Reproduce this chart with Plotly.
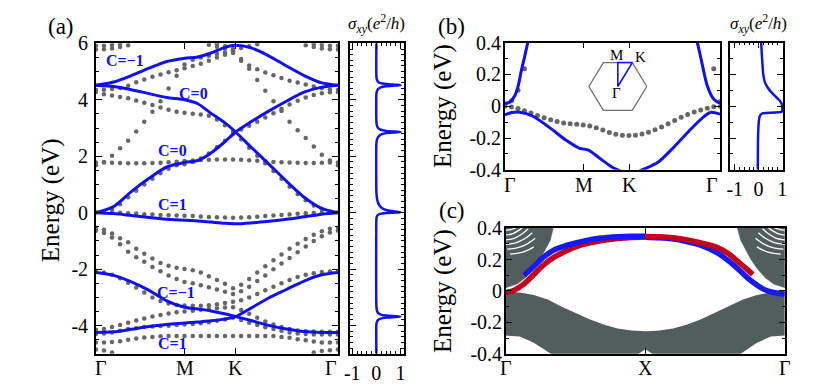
import plotly.graph_objects as go

FONT = "Liberation Serif"
BLUE = "#1010f0"
GREY = "#666666"
BULK = "#525d5d"
RED = "#c2001c"
EDGE_BLUE = "#1818f0"
N = None

# ---------------- panel (a): bands along G-M-K-G (k in units of |GM|) ----------------
k_path_ticks = [1.0, 1.577]
k_end = 2.732

# k grid of the tight-binding dots (31 points)
k_dots_a = [0.0, 0.091, 0.182, 0.273, 0.364, 0.455, 0.546, 0.638, 0.729, 0.82, 0.911,
            1.0, 1.093, 1.184, 1.275, 1.366, 1.457, 1.548, 1.639, 1.73, 1.821,
            1.912, 2.004, 2.095, 2.186, 2.277, 2.368, 2.459, 2.55, 2.641, 2.732]

ga_top1 = [5.92, 5.92, 5.94, 5.97, N, N, N, N, N, N, N, N, N, N, N, N, N, N, N, N, N, N, N, N, N, N, N,
           5.97, 5.94, 5.92, 5.92]
ga_top2 = [5.78, 5.79, 5.82, 5.87, 5.93, N, N, N, N, N, N, N, N, N, N, N, N, N, N, N, N, N, N, N, N, N,
           5.93, 5.87, 5.82, 5.79, 5.78]
ga_topk = [N, N, N, N, N, N, N, N, N, N, N, N, N, N, 5.95, 5.88, 5.82, 5.8, 5.84, 5.9, 5.97,
           N, N, N, N, N, N, N, N, N, N]
ga_flat = [1.78, 1.78, 1.77, 1.76, 1.75, 1.75, 1.75, 1.76, 1.77, 1.79, 1.81, 1.83, 1.85, 1.87, 1.88,
           1.89, 1.89, 1.89, 1.88, 1.86, 1.84, 1.82, 1.8, 1.79, 1.78, 1.77, 1.76, 1.76, 1.77, 1.78, 1.78]
ga_steep_l = [1.68, 1.8, 2.02, 2.28, 2.55, 2.88, 3.22, 3.58, 3.95, 4.4, 4.85, 5.25, 5.42, 5.5, 5.56,
              5.62, 5.68, 5.72, N, N, N, N, N, N, N, N, N, N, N, N, N]
ga_steep_r = [N, N, N, N, N, N, N, N, N, N, N, N, N, N, N, 5.97, 5.9, 5.75, 5.45, 5.1, 4.7, 4.32,
              3.95, 3.6, 3.22, 2.92, 2.65, 2.35, 2.05, 1.85, 1.68]
ga_u1 = [4.35, 4.36, 4.38, 4.42, 4.5, 4.62, 4.72, 4.82, 4.9, 4.98, 5.05, 5.12, 5.2, 5.28, 5.38,
         5.5, 5.6, 5.66, 5.38, 5.22, 5.08, 4.97, 4.87, 4.77, 4.68, 4.61, 4.54, 4.47, 4.41, 4.37, 4.35]
ga_u3 = [4.28, 4.2, 4.15, 4.1, 4.06, 3.98, 3.9, 3.82, 3.73, 3.65, 3.58, 3.54, 3.51, 3.48, 3.44,
         3.3, 3.1, 2.88, 2.6, 2.3, 2.02, 1.75, 1.48, 1.2, 0.92, 0.66, 0.44, 0.26, 0.12, N, N]
ga_u3m = [N, N, 0.12, 0.3, 0.55, 0.78, 1.0, 1.2, 1.4, 1.56, 1.68, 1.72, 1.8, 1.92, 2.1,
          2.32, 2.55, 2.8, 2.95, 3.08, 3.22, 3.37, 3.52, 3.68, 3.83, 3.97, 4.08, 4.17, 4.23, 4.27, 4.28]
ga_zero = [0.02, 0.02, 0.01, 0.0, -0.02, -0.03, -0.05, -0.06, -0.08, -0.09, -0.1, -0.11, -0.12, -0.13,
           -0.15, -0.16, -0.17, -0.18, -0.17, -0.16, -0.14, -0.12, -0.1, -0.08, -0.06, -0.04, -0.02,
           -0.01, 0.0, 0.01, 0.02]
ga_l1 = [-0.53, -0.6, -0.74, -0.9, -1.05, -1.28, -1.45, -1.62, -1.78, -1.88, -1.95, -1.99, -2.04,
         -2.12, -2.25, -2.38, -2.52, -2.68, -2.55, -2.35, -2.12, -1.9, -1.68, -1.48, -1.28, -1.1,
         -0.93, -0.78, -0.66, -0.57, -0.53]
ga_l2 = [-0.64, -0.72, -0.88, -1.12, -1.38, -1.58, -1.74, -1.92, -2.07, -2.22, -2.35, -2.45, -2.5,
         -2.57, -2.64, -2.72, -2.8, -2.88, -2.78, -2.62, -2.42, -2.22, -2.0, -1.8, -1.6, -1.4, -1.2,
         -1.0, -0.83, -0.7, -0.64]
ga_l3 = [-2.08, -2.12, -2.2, -2.32, -2.48, -2.65, -2.83, -3.0, -3.13, -3.22, -3.27, -3.29, -3.3, -3.3,
         -3.28, -3.24, -3.2, -3.15, -3.1, -3.0, -2.88, -2.75, -2.62, -2.5, -2.38, -2.28, -2.2, -2.14,
         -2.1, -2.08, -2.07]
ga_l4 = [-4.15, -4.12, -4.05, -3.98, -3.9, -3.82, -3.75, -3.68, -3.62, -3.57, -3.53, -3.5, -3.47,
         -3.44, -3.41, -3.38, -3.36, -3.35, -3.45, -3.58, -3.72, -3.85, -3.96, -4.05, -4.12, -4.17,
         -4.2, -4.21, -4.22, -4.22, -4.22]
ga_l5 = [-4.3, -4.28, -4.24, -4.18, -4.12, -4.08, -4.05, -4.03, -4.01, -4.0, -3.98, -3.96, -3.94,
         -3.92, -3.88, -3.83, -3.78, -3.72, -3.8, -3.9, -3.98, -4.06, -4.12, -4.18, -4.24, -4.28,
         -4.3, -4.31, -4.31, -4.31, -4.31]
ga_l6 = [-4.6, -4.6, -4.58, -4.55, -4.5, -4.46, -4.42, -4.4, -4.38, -4.37, -4.37, -4.37, -4.37,
         -4.37, -4.37, -4.37, -4.37, -4.37, -4.37, -4.37, -4.37, -4.37, -4.37, -4.4, -4.43, -4.48,
         -4.52, -4.56, -4.6, -4.6, -4.6]
ga_l7 = [-4.85, -4.88, -4.95, N, N, N, N, N, N, N, N, N, N, N, N, N, N, N, N, N, N, N, N, N, N, N, N,
         -4.95, -4.9, -4.87, -4.85]

grey_bands_a = [ga_top1, ga_top2, ga_topk, ga_flat, ga_steep_l, ga_steep_r, ga_u1, ga_u3, ga_u3m,
                ga_zero, ga_l1, ga_l2, ga_l3, ga_l4, ga_l5, ga_l6, ga_l7]

# Wannier-like (blue) bands, sampled at these k knots
k_blue_a = [0, 0.2, 0.4, 0.6, 0.8, 1.0, 1.15, 1.3, 1.45, 1.577, 1.75, 1.95, 2.15, 2.35, 2.55, 2.732]
band_a1 = [4.52, 4.63, 4.86, 5.12, 5.36, 5.47, 5.52, 5.66, 5.85, 5.93, 5.84, 5.56, 5.2, 4.86, 4.6, 4.52]
band_a2 = [4.52, 4.47, 4.36, 4.22, 4.08, 4.0, 3.86, 3.52, 3.2, 2.86, 2.33, 1.73, 1.12, 0.55, 0.15, 0.0]
band_a3 = [0.0, 0.22, 0.75, 1.22, 1.62, 1.78, 1.85, 2.12, 2.5, 2.86, 3.22, 3.6, 3.95, 4.27, 4.45, 4.52]
band_a4 = [0.0, -0.03, -0.1, -0.17, -0.23, -0.27, -0.29, -0.33, -0.37, -0.39, -0.36, -0.3, -0.23, -0.14, -0.05, 0.0]
band_a5 = [-2.12, -2.22, -2.45, -2.75, -3.12, -3.35, -3.41, -3.48, -3.58, -3.68, -3.82, -3.99, -4.12, -4.21, -4.24, -4.24]
band_a6 = [-4.24, -4.22, -4.13, -4.03, -3.96, -3.91, -3.87, -3.83, -3.77, -3.68, -3.38, -3.02, -2.72, -2.42, -2.2, -2.12]
blue_bands_a = [band_a1, band_a2, band_a3, band_a4, band_a5, band_a6]

chern_text = ["C=\u22121", "C=0", "C=0", "C=1", "C=\u22121", "C=1"]
chern_k = [0.323, 1.104, 0.859, 0.859, 0.903, 0.859]
chern_E = [5.4, 4.24, 2.19, 0.3, -2.81, -4.64]

# Hall conductivity (a)
sig_a_E = [6.0, 4.85, 4.72, 4.64, 4.59, 4.56, 4.535, 4.52, 4.505, 4.48, 4.44, 4.38, 4.3, 4.2,
           3.25, 3.1, 3.0, 2.94, 2.9, 2.875, 2.86, 2.845, 2.82, 2.77, 2.68, 2.57, 2.45,
           0.75, 0.55, 0.38, 0.24, 0.13, 0.07, 0.035, 0.02, 0.005, -0.01, -0.04, -0.09, -0.16, -0.25,
           -3.3, -3.45, -3.55, -3.61, -3.645, -3.665, -3.68, -3.695, -3.715, -3.75, -3.8, -3.87, -3.95,
           -5.0]
sig_a_val = [0, 0, 0.02, 0.07, 0.18, 0.4, 0.8, 1.0, 0.8, 0.4, 0.18, 0.07, 0.02, 0,
             0, 0.02, 0.07, 0.18, 0.4, 0.8, 1.0, 0.8, 0.4, 0.18, 0.07, 0.02, 0,
             0, 0.02, 0.06, 0.14, 0.3, 0.55, 0.85, 1.0, 0.85, 0.4, 0.15, 0.05, 0.01, 0,
             0, 0.02, 0.07, 0.18, 0.4, 0.8, 1.0, 0.8, 0.4, 0.18, 0.07, 0.02, 0,
             0]

# ---------------- panel (b): zoom around the gap ----------------
k_dots_b = [0.0, 0.083, 0.166, 0.248, 0.331, 0.414, 0.497, 0.58, 0.662, 0.745, 0.828, 0.911,
            0.993, 1.076, 1.159, 1.242, 1.325, 1.407, 1.49, 1.573, 1.656, 1.739, 1.821, 1.904,
            1.987, 2.07, 2.153, 2.236, 2.318, 2.401, 2.484, 2.567, 2.649, 2.732]
gb_flat = [0.0, -0.005, -0.015, -0.028, -0.042, -0.058, -0.072, -0.085, -0.096, -0.105, -0.11,
           -0.114, -0.118, -0.124, -0.135, -0.15, -0.165, -0.176, -0.182, -0.184, -0.182, -0.175,
           -0.163, -0.148, -0.13, -0.11, -0.09, -0.07, -0.052, -0.036, -0.023, -0.012, -0.004, 0.0]
gb_steep = [0.012, 0.035, 0.1, 0.235, N, N, N, N, N, N, N, N, N, N, N, N, N, N, N, N, N, N, N, N,
            N, N, N, N, N, N, N, N, 0.235, 0.03]

kb_up_l = [0, 0.06, 0.125, 0.167, 0.209, 0.251, 0.292, 0.33]
Eb_up_l = [0.018, 0.025, 0.066, 0.125, 0.225, 0.314, 0.404, 0.48]
kb_up_r = [2.404, 2.444, 2.485, 2.528, 2.569, 2.632, 2.694, 2.732]
Eb_up_r = [0.48, 0.394, 0.305, 0.205, 0.125, 0.056, 0.026, 0.02]
kb_low = [0, 0.088, 0.188, 0.355, 0.564, 0.773, 0.94, 1.065, 1.19, 1.357, 1.441, 1.529, 1.642,
          1.733, 1.942, 2.151, 2.36, 2.528, 2.611, 2.732]
Eb_low = [-0.054, -0.04, -0.038, -0.063, -0.133, -0.213, -0.263, -0.277, -0.323, -0.382, -0.402,
          -0.42, -0.42, -0.402, -0.352, -0.253, -0.143, -0.064, -0.038, -0.05]

sig_b_E = [0.4, 0.3, 0.2, 0.15, 0.115, 0.09, 0.066, 0.05, 0.036, 0.02, 0.006, -0.01, -0.025,
           -0.035, -0.04, -0.042, -0.046, -0.055, -0.07, -0.1, -0.2, -0.4]
sig_b_val = [0.11, 0.15, 0.2, 0.27, 0.4, 0.53, 0.68, 0.79, 0.89, 0.96, 0.99, 1.0, 1.0, 0.98, 0.7,
             0.3, 0.15, 0.08, 0.04, 0.01, -0.02, -0.03]

# Brillouin-zone inset (unit hexagon) and path
hex_x = [1, 0.5, -0.5, -1, -0.5, 0.5, 1]
hex_y = [0, 0.866, 0.866, 0, -0.866, -0.866, 0]
bz_path_x = [0, 0, 0.5, 0]
bz_path_y = [0, 0.866, 0.866, 0]

# ---------------- panel (c): slab spectrum G-X-G ----------------
kc_bulk = [0, 0.1, 0.2, 0.3, 0.4, 0.5, 0.6, 0.7, 0.8, 0.9, 0.95, 1.0, 1.05, 1.1, 1.2, 1.3, 1.4,
           1.5, 1.6, 1.7, 1.8, 1.9, 2.0]
Ec_bulk_top = [-0.01, -0.01, -0.025, -0.055, -0.1, -0.14, -0.18, -0.213, -0.238, -0.252, -0.255,
               -0.256, -0.255, -0.252, -0.238, -0.213, -0.18, -0.14, -0.1, -0.055, -0.025, -0.01, -0.01]
Ec_bulk_bot = [-0.284, -0.29, -0.33, -0.39, -0.45, -0.5, -0.5, -0.48, -0.46, -0.43, -0.4, -0.37,
               -0.4, -0.43, -0.46, -0.48, -0.5, -0.5, -0.45, -0.39, -0.33, -0.29, -0.284]
kc_wedge_l = [0, 0, 0.01, 0.08, 0.14, 0.199, 0.246, 0.282, 0.317, 0.34, 0.35, 0]
Ec_wedge_l = [0.45, 0.02, 0.024, 0.044, 0.084, 0.144, 0.204, 0.264, 0.32, 0.4, 0.45, 0.45]
kc_wedge_r = [2.0, 2.0, 1.99, 1.92, 1.86, 1.8, 1.755, 1.72, 1.685, 1.66, 1.65, 2.0]
Ec_wedge_r = [0.45, 0.02, 0.024, 0.044, 0.084, 0.144, 0.204, 0.264, 0.32, 0.4, 0.45, 0.45]
# white gaps between slab sub-bands inside the wedges
arcs_l_k = [[0, 0.04, 0.08], [0, 0.05, 0.1, 0.12], [0, 0.06, 0.12, 0.16],
            [0, 0.07, 0.14, 0.19], [0.01, 0.08, 0.15, 0.21], [0.03, 0.09, 0.15, 0.2]]
arcs_l_E = [[0.385, 0.392, 0.405], [0.355, 0.365, 0.39, 0.405], [0.325, 0.335, 0.365, 0.395],
            [0.297, 0.306, 0.335, 0.37], [0.266, 0.274, 0.298, 0.335], [0.234, 0.24, 0.256, 0.28]]
arcs_r_k = [[2.0, 1.96, 1.92], [2.0, 1.95, 1.9, 1.88], [2.0, 1.94, 1.88, 1.84],
            [2.0, 1.93, 1.86, 1.81], [1.99, 1.92, 1.85, 1.79], [1.97, 1.91, 1.85, 1.8]]
arcs_r_E = arcs_l_E

kc_red_l = [0, 0.06, 0.13, 0.2, 0.27, 0.34, 0.42, 0.5, 0.57, 0.67, 0.8, 0.9, 1.0]
Ec_red_l = [-0.01, 0.005, 0.045, 0.105, 0.165, 0.212, 0.25, 0.28, 0.3, 0.318, 0.333, 0.34, 0.343]
kc_blue_l = [0.13, 0.2, 0.27, 0.34, 0.42, 0.5, 0.57, 0.67, 0.8, 0.9, 1.0]
Ec_blue_l = [0.1, 0.155, 0.215, 0.258, 0.285, 0.305, 0.32, 0.335, 0.345, 0.348, 0.348]
kc_blue_r = [1.0, 1.1, 1.2, 1.28, 1.4, 1.52, 1.64, 1.75, 1.85, 1.92, 2.0]
Ec_blue_r = [0.342, 0.338, 0.33, 0.318, 0.29, 0.24, 0.16, 0.07, 0.01, -0.01, -0.02]
kc_red_r = [1.0, 1.1, 1.2, 1.3, 1.4, 1.52, 1.6, 1.66, 1.72, 1.77]
Ec_red_r = [0.346, 0.344, 0.338, 0.325, 0.305, 0.275, 0.235, 0.19, 0.145, 0.105]

# ---------------- layout geometry (pixels of the 830x391 canvas) ----------------
W, H = 830, 391


def dx(a, b):
    return [a / W, b / W]


def dy(top, bottom):
    return [1 - bottom / H, 1 - top / H]


def frame(domain, rng, **kw):
    d = dict(domain=domain, range=rng, showline=True, linecolor="black", linewidth=1.6,
             mirror="allticks", ticks="inside", ticklen=6, tickwidth=1.2, tickcolor="black",
             showgrid=False, zeroline=False, fixedrange=True,
             tickfont=dict(family=FONT, size=20, color="black"))
    d.update(kw)
    return d


def minor(step, length=3):
    return dict(ticks="inside", ticklen=length, tickwidth=1, tickcolor="black",
                tickmode="linear", tick0=0, dtick=step, showgrid=False)


fig = go.Figure()

# (a) dots then Wannier bands
for band in grey_bands_a:
    fig.add_trace(go.Scatter(x=k_dots_a, y=band, mode="markers", xaxis="x", yaxis="y",
                             marker=dict(size=4.5, color=GREY)))
for band in blue_bands_a:
    fig.add_trace(go.Scatter(x=k_blue_a, y=band, mode="lines", xaxis="x", yaxis="y",
                             line=dict(color=BLUE, width=3, shape="spline", smoothing=0.8)))
fig.add_trace(go.Scatter(x=sig_a_val, y=sig_a_E, mode="lines", xaxis="x2", yaxis="y2",
                         line=dict(color=BLUE, width=2.5, shape="spline", smoothing=0.5)))

# (b)
fig.add_trace(go.Scatter(x=k_dots_b, y=gb_flat, mode="markers", xaxis="x3", yaxis="y3",
                         marker=dict(size=5, color=GREY)))
fig.add_trace(go.Scatter(x=k_dots_b, y=gb_steep, mode="markers", xaxis="x3", yaxis="y3",
                         marker=dict(size=5, color=GREY)))
for kk, ee in [(kb_up_l, Eb_up_l), (kb_up_r, Eb_up_r), (kb_low, Eb_low)]:
    fig.add_trace(go.Scatter(x=kk, y=ee, mode="lines", xaxis="x3", yaxis="y3",
                             line=dict(color=BLUE, width=3, shape="spline", smoothing=0.8)))
fig.add_trace(go.Scatter(x=sig_b_val, y=sig_b_E, mode="lines", xaxis="x4", yaxis="y4",
                         line=dict(color=BLUE, width=2.5, shape="spline", smoothing=0.5)))

# (c) bulk continuum, sub-band gaps, edge states
fig.add_trace(go.Scatter(x=kc_bulk, y=Ec_bulk_bot, mode="lines", xaxis="x5", yaxis="y5",
                         line=dict(width=0, color=BULK)))
fig.add_trace(go.Scatter(x=kc_bulk, y=Ec_bulk_top, mode="lines", xaxis="x5", yaxis="y5",
                         fill="tonexty", fillcolor=BULK, line=dict(width=0, color=BULK)))
for kk, ee in [(kc_wedge_l, Ec_wedge_l), (kc_wedge_r, Ec_wedge_r)]:
    fig.add_trace(go.Scatter(x=kk, y=ee, mode="lines", xaxis="x5", yaxis="y5", fill="toself",
                             fillcolor=BULK, line=dict(width=0.5, color=BULK)))
for kk, ee in list(zip(arcs_l_k, arcs_l_E)) + list(zip(arcs_r_k, arcs_r_E)):
    fig.add_trace(go.Scatter(x=kk, y=ee, mode="lines", xaxis="x5", yaxis="y5",
                             line=dict(width=1.3, color="white", shape="spline")))
for kk, ee, col in [(kc_red_l, Ec_red_l, RED), (kc_blue_l, Ec_blue_l, EDGE_BLUE),
                    (kc_blue_r, Ec_blue_r, EDGE_BLUE), (kc_red_r, Ec_red_r, RED)]:
    fig.add_trace(go.Scatter(x=kk, y=ee, mode="lines", xaxis="x5", yaxis="y5",
                             line=dict(width=5.5, color=col, shape="spline", smoothing=0.8)))

# BZ inset
fig.add_trace(go.Scatter(x=hex_x, y=hex_y, mode="lines", xaxis="x6", yaxis="y6",
                         line=dict(color="#707070", width=1.3)))
fig.add_trace(go.Scatter(x=bz_path_x, y=bz_path_y, mode="lines", xaxis="x6", yaxis="y6",
                         line=dict(color=BLUE, width=1.6)))

ya_dom = dy(34.3, 363.3)
yb_dom = dy(33.5, 168.3)
yc_dom = dy(230, 363.3)

fig.update_layout(
    width=W, height=H, margin=dict(l=0, r=0, t=0, b=0),
    paper_bgcolor="white", plot_bgcolor="rgba(0,0,0,0)", showlegend=False,
    font=dict(family=FONT, color="black"),
    xaxis=frame(dx(91, 336), [0, k_end], anchor="y", tickvals=k_path_ticks, showticklabels=False),
    yaxis=frame(ya_dom, [-5, 6], anchor="x", tickmode="array", tickvals=[6, 4, 2, 0, -2, -4],
                ticktext=["6", "4", "2", "0", "-2", "-4"], minor=minor(0.5), ticklabelstandoff=2),
    xaxis2=frame(dx(348, 403), [-1.1, 1.15], anchor="y2", tickmode="array", tickvals=[-1, 0, 1],
                 ticktext=["-1", "0", "1"], minor=minor(0.2)),
    yaxis2=frame(ya_dom, [-5, 6], anchor="x2", tickvals=[6, 4, 2, 0, -2, -4],
                 showticklabels=False, minor=minor(0.2)),
    xaxis3=frame(dx(505, 723), [0, k_end], anchor="y3", tickvals=k_path_ticks, showticklabels=False),
    yaxis3=frame(yb_dom, [-0.4, 0.4], anchor="x3", tickmode="array",
                 tickvals=[0.4, 0.2, 0, -0.2, -0.4], ticktext=["0.4", "0.2", "0", "-0.2", "-0.4"],
                 minor=minor(0.1), ticklabelstandoff=-2),
    xaxis4=frame(dx(733.3, 786.7), [-1.18, 1.04], anchor="y4", tickmode="array",
                 tickvals=[-1, 0, 1], ticktext=["-1", "0", "1"], minor=minor(0.2)),
    yaxis4=frame(yb_dom, [-0.4, 0.4], anchor="x4", tickvals=[0.4, 0.2, 0, -0.2, -0.4],
                 showticklabels=False, minor=minor(0.1)),
    xaxis5=frame(dx(506, 788.3), [0, 2], anchor="y5", tickvals=[1.0], showticklabels=False),
    yaxis5=frame(yc_dom, [-0.4, 0.4], anchor="x5", tickmode="array",
                 tickvals=[0.4, 0.2, 0, -0.2, -0.4], ticktext=["0.4", "0.2", "0", "-0.2", "-0.4"],
                 minor=minor(0.1), ticklabelstandoff=-2),
    xaxis6=dict(domain=dx(584.3, 654.3), range=[-1.195, 1.195], visible=False, anchor="y6",
                fixedrange=True),
    yaxis6=dict(domain=dy(40, 110), range=[-1.024, 1.365], visible=False, anchor="x6",
                fixedrange=True),
)

ann = []


def text(s, x, y, xref="paper", yref="paper", size=20, color="black", **kw):
    ann.append(dict(text=s, x=x, y=y, xref=xref, yref=yref, showarrow=False,
                    xanchor="center", yanchor="middle",
                    font=dict(family=FONT, size=size, color=color), **kw))


# k-path labels
for xr, ypx, pts in [("x", 378, [("\u0393", 0, 5), ("M", 1.0, 0), ("K", 1.577, 0), ("\u0393", k_end, -7)]),
                     ("x3", 184, [("\u0393", 0, 5), ("M", 1.0, 0), ("K", 1.577, 0), ("\u0393", k_end, -8)]),
                     ("x5", 378, [("\u0393", 0, 0), ("X", 1.0, 0), ("\u0393", 2.0, 0)])]:
    for s, xv, sh in pts:
        text(s, xv, 1 - ypx / H, xref=xr, xshift=sh)

# panel letters
text("(a)", 56 / W, 1 - 16 / H, size=23)
text("(b)", 451 / W, 1 - 16 / H, size=23)
text("(c)", 451 / W, 1 - 211 / H, size=23)

# axis titles
text("Energy (eV)", 45 / W, 1 - 200 / H, size=25, textangle=-90)
text("Energy (eV)", 443 / W, 1 - 101 / H, size=25, textangle=-90)
text("Energy (eV)", 443 / W, 1 - 297 / H, size=25, textangle=-90)
sig_title = "<i>\u03c3<sub>xy</sub></i>(<i>e</i><sup>2</sup>/<i>h</i>)"
text(sig_title, 375 / W, 1 - 13 / H, size=17)
text(sig_title, 762 / W, 1 - 13 / H, size=17)

# Chern numbers
for s, xv, yv in zip(chern_text, chern_k, chern_E):
    text("<b>" + s + "</b>", xv, yv, xref="x", yref="y", size=16, color=BLUE)

# inset labels
text("M", -0.03, 1.14, xref="x6", yref="y6", size=15)
text("K", 0.78, 1.08, xref="x6", yref="y6", size=15)
text("\u0393", -0.03, -0.25, xref="x6", yref="y6", size=15)

fig.update_layout(annotations=ann)
fig.write_html("out.html", config={"displayModeBar": False},
               post_script="document.body.style.margin='0px';")
